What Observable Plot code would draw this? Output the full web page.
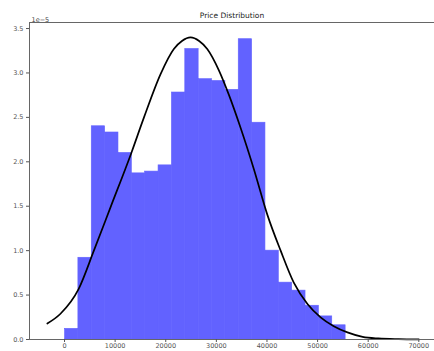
<!DOCTYPE html>
<html>
<head>
<meta charset="utf-8">
<script src="https://cdn.jsdelivr.net/npm/d3@7"></script>
<script src="https://cdn.jsdelivr.net/npm/@observablehq/plot@0.6"></script>
<style>
  html, body { margin: 0; padding: 0; background: white; overflow: hidden; }
</style>
</head>
<body>
<div id="chart"></div>
<script>
// Histogram bin edges (price) and densities (in units of 1e-5)
const binEdges = [100, 2740, 5380, 8020, 10660, 13300, 15940, 18580, 21220, 23860, 26500,
                  29140, 31780, 34420, 37060, 39700, 42340, 44980, 47620, 50260, 52900, 55540];
const density = [0.12, 0.92, 2.40, 2.33, 2.10, 1.87, 1.89, 1.96, 2.78, 3.27, 2.93,
                 2.91, 2.81, 3.38, 2.44, 1.00, 0.64, 0.55, 0.38, 0.26, 0.16];

// Fitted normal curve
const curveX = [-3400, -800, 2800, 5800, 9100, 13200, 15700, 19000, 21600, 23200, 24900,
                26600, 28200, 30500, 32500, 34800, 37400, 40100, 42700, 45300, 48000,
                50600, 53200, 55900, 58900, 62000, 66000, 70000];
const curveY = [0.18, 0.29, 0.57, 1.00, 1.49, 2.10, 2.50, 2.99, 3.27, 3.36, 3.40,
                3.36, 3.27, 3.03, 2.75, 2.38, 1.92, 1.40, 1.00, 0.64, 0.40,
                0.25, 0.15, 0.08, 0.03, 0.012, 0.004, 0.001];

const xTicks = [0, 10000, 20000, 30000, 40000, 50000, 60000, 70000];
const yTicks = [0.0, 0.5, 1.0, 1.5, 2.0, 2.5, 3.0, 3.5];
const title = "Price Distribution";
const offsetLabel = "1e\u22125";

const bars = density.map((d, i) => ({x1: binEdges[i], x2: binEdges[i + 1], y: d}));
const curve = curveX.map((x, i) => ({x, y: curveY[i]}));

const chart = Plot.plot({
  width: 434,
  height: 351,
  marginTop: 22,
  marginLeft: 29,
  marginRight: 0,
  marginBottom: 12,
  style: {fontFamily: "DejaVu Sans", fontSize: "7px", color: "#333", background: "white"},
  x: {domain: [-6920, 73100], axis: null},
  y: {domain: [0, 3.568], axis: null},
  marks: [
    Plot.rectY(bars, {x1: "x1", x2: "x2", y: "y", fill: "#6262ff", stroke: "#6262ff", strokeWidth: 0.6, inset: 0}),
    Plot.line(curve, {x: "x", y: "y", stroke: "black", strokeWidth: 1.7, curve: "monotone-x"}),
    Plot.frame({stroke: "#666", strokeWidth: 1}),
    Plot.axisX(xTicks, {tickSize: 3, tickPadding: 1, tickFormat: "d", fontSize: 6.5, stroke: "#555", fill: "#555", label: null}),
    Plot.axisY(yTicks, {tickSize: 3, tickPadding: 3, tickFormat: ".1f", fontSize: 6.5, stroke: "#555", fill: "#555", label: null}),
    Plot.text([title], {frameAnchor: "top", dy: -10, fontSize: 7.5, fill: "#222"}),
    Plot.text([offsetLabel], {frameAnchor: "top-left", dy: -5, dx: 2, textAnchor: "start", fontSize: 6.5, fill: "#444"})
  ]
});
document.getElementById("chart").append(chart);
</script>
</body>
</html>
